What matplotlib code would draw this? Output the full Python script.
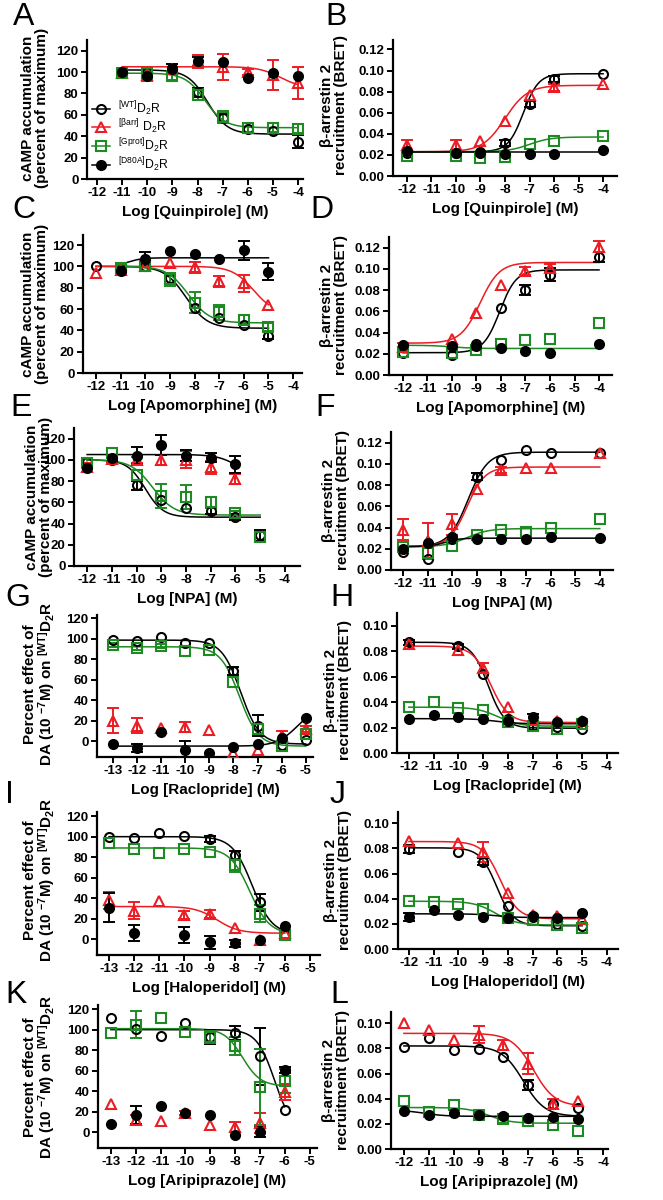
import numpy as np
import matplotlib
matplotlib.use('Agg')
import matplotlib.pyplot as plt
from matplotlib.lines import Line2D
from matplotlib.ticker import FormatStrFormatter

plt.rcParams['font.family'] = 'Liberation Sans'
plt.rcParams['font.weight'] = 'bold'
plt.rcParams['axes.labelweight'] = 'bold'
plt.rcParams['mathtext.default'] = 'regular'
plt.rcParams['axes.unicode_minus'] = False

nan = np.nan

# ---- data (log M, response) ----
# fit params: (left asymptote, right asymptote, logEC50, slope)

# A: quinpirole, cAMP
A_x = [-11, -10, -9, -8, -7, -6, -5, -4]
A_wt = [100, 100, 104, 81, 57, 47, 45, 35]
A_barr = [99, 97, 103, 110, 105, 100, 97, 90]
A_gprot = [99, 99, 96, 79, 58, 48, 48, 47]
A_d80a = [100, 96, 103, 110, 109, 94, 99, 96]
A_wt_err = [0, 0, 0, 4, 4, 0, 0, 6]
A_barr_err = [3, 5, 0, 6, 12, 3, 14, 15]
A_gprot_err = [2, 2, 3, 5, 6, 4, 4, 4]
A_d80a_err = [0, 0, 5, 4, 0, 0, 0, 0]
A_fit = {'wt': (102, 42, -7.6, 1.1), 'barr': (105, 85, -4.7, 1.0),
         'gprot': (99, 48, -7.7, 1.1)}

# B: quinpirole, BRET
B_x = [-12, -10, -9, -8, -7, -6, -4]
B_wt = [0.0215, 0.0215, 0.023, 0.031, 0.068, 0.092, 0.097]
B_barr = [0.029, 0.029, 0.033, 0.052, 0.077, 0.084, 0.087]
B_gprot = [0.019, 0.019, 0.0175, 0.018, 0.030, 0.0335, 0.038]
B_d80a = [0.024, 0.022, 0.0215, 0.021, 0.021, 0.0205, 0.0245]
B_wt_err = [0, 0, 0, 0.003, 0.003, 0.003, 0]
B_barr_err = [0.005, 0.005, 0, 0, 0, 0.003, 0]
B_gprot_err = [0, 0, 0, 0, 0, 0, 0]
B_d80a_err = [0, 0, 0, 0, 0, 0, 0]
B_fit = {'wt': (0.023, 0.097, -7.25, 1.4), 'barr': (0.023, 0.086, -8.0, 0.95),
         'gprot': (0.023, 0.037, -7.0, 1.0), 'd80a': (0.023, 0.023, -8.0, 1.0)}

# C: apomorphine, cAMP
C_x = [-12, -11, -10, -9, -8, -7, -6, -5]
C_wt = [100, 97, 100, 89, 61, 52, 45, 35]
C_barr = [94, 97, 100, 103, 99, 86, 84, 64]
C_gprot = [nan, 98, 100, 88, 66, 57, 50, 43]
C_d80a = [nan, 96, 107, 114, 112, 107, 115, 95]
C_wt_err = [0, 0, 0, 0, 0, 0, 0, 3]
C_barr_err = [0, 0, 0, 0, 5, 5, 8, 0]
C_gprot_err = [0, 3, 0, 6, 10, 7, 4, 4]
C_d80a_err = [0, 0, 6, 0, 0, 0, 9, 8]
C_fit = {'wt': (100, 42, -8.35, 1.0), 'barr': (100, 55, -5.6, 1.0),
         'gprot': (100, 47, -8.25, 1.0), 'd80a': (100, 108, -10.7, 1.5)}

# D: apomorphine, BRET
D_x = [-12, -10, -9, -8, -7, -6, -4]
D_wt = [0.0205, 0.019, 0.029, 0.063, 0.080, 0.0945, 0.111]
D_barr = [0.026, 0.034, 0.058, 0.085, 0.098, 0.101, 0.121]
D_gprot = [0.022, 0.021, 0.024, 0.029, 0.033, 0.034, 0.049]
D_d80a = [0.028, 0.027, 0.027, 0.025, 0.0225, 0.021, 0.029]
D_wt_err = [0, 0, 0, 0, 0.005, 0.006, 0.005]
D_barr_err = [0.004, 0, 0, 0, 0.004, 0.004, 0.005]
D_gprot_err = [0, 0, 0, 0, 0, 0, 0]
D_d80a_err = [0, 0, 0, 0, 0, 0, 0]
D_fit = {'wt': (0.021, 0.099, -8.05, 1.3), 'barr': (0.030, 0.106, -8.85, 1.1),
         'gprot': (0.028, 0.025, -10.0, 1.0)}

# E: NPA, cAMP
E_x = [-12, -11, -10, -9, -8, -7, -6, -5]
E_wt = [98, 100, 76, 62, 55, 52, 46, 29]
E_barr = [93, 101, 100, 100, 100, 93, 82, nan]
E_gprot = [97, 106, 86, 66, 65, 60, 50, 27]
E_d80a = [92, 102, 104, 114, 104, 102, 96, nan]
E_wt_err = [0, 0, 4, 0, 0, 3, 3, 5]
E_barr_err = [4, 3, 3, 5, 8, 6, 5, 0]
E_gprot_err = [0, 0, 0, 11, 11, 5, 2, 0]
E_d80a_err = [0, 0, 8, 9, 5, 4, 8, 0]
E_fit = {'wt': (100, 46, -9.65, 1.2), 'gprot': (100, 48, -9.35, 1.0),
         'd80a': (105, 80, -5.8, 1.0)}

# F: NPA, BRET
F_x = [-12, -11, -10, -9, -8, -7, -6, -4]
F_wt = [0.017, 0.010, 0.029, 0.088, 0.104, 0.1135, 0.110, 0.110]
F_barr = [0.038, 0.027, 0.043, 0.076, 0.094, 0.096, 0.096, 0.110]
F_gprot = [0.022, 0.016, 0.023, 0.033, 0.0375, 0.036, 0.040, 0.048]
F_d80a = [0.020, 0.025, 0.031, 0.029, 0.029, 0.029, 0.031, 0.030]
F_wt_err = [0, 0, 0, 0.003, 0, 0, 0, 0]
F_barr_err = [0.010, 0.017, 0.010, 0, 0.003, 0, 0, 0]
F_gprot_err = [0, 0, 0, 0, 0, 0, 0, 0]
F_d80a_err = [0, 0, 0, 0, 0, 0, 0, 0]
F_fit = {'wt': (0.022, 0.111, -9.35, 1.1), 'barr': (0.022, 0.097, -9.4, 1.2),
         'gprot': (0.022, 0.039, -9.4, 1.0), 'd80a': (0.022, 0.030, -10.3, 1.5)}

# G: raclopride, cAMP (percent effect of DA)
G_x = [-13, -12, -11, -10, -9, -8, -7, -6, -5]
G_wt = [99, 98, 102, 96, 96, 68, 15, -4, 1]
G_barr = [20, 15, 13, 14, 11, -12, -9, 5, 12]
G_gprot = [94, 91, 93, 88, 89, 58, 12, -5, 7]
G_d80a = [-3, -7, 9, -9, -12, -6, -3, 3, 22]
G_wt_err = [0, 0, 0, 0, 0, 4, 10, 0, 0]
G_barr_err = [12, 7, 0, 5, 0, 0, 0, 5, 3]
G_gprot_err = [2, 2, 2, 0, 0, 0, 0, 0, 0]
G_d80a_err = [0, 4, 0, 9, 0, 0, 0, 0, 0]
G_fit = {'wt': (98.5, -3, -7.7, 1.1), 'gprot': (92, -5, -7.75, 1.1),
         'd80a': (-5, 35, -5.33, 1.0)}

# H: raclopride, BRET
H_x = [-12, -11, -10, -9, -8, -7, -6, -5]
H_wt = [0.087, nan, 0.084, 0.062, 0.027, 0.021, 0.0205, 0.0185]
H_barr = [0.086, nan, 0.081, 0.067, 0.036, 0.026, 0.025, 0.025]
H_gprot = [0.036, 0.040, 0.0355, 0.0335, 0.024, 0.021, 0.019, 0.023]
H_d80a = [0.027, 0.0295, 0.028, 0.027, 0.025, 0.028, 0.024, 0.025]
H_wt_err = [0.002, 0, 0.002, 0, 0, 0.003, 0, 0]
H_barr_err = [0, 0, 0, 0.004, 0, 0, 0, 0]
H_gprot_err = [0, 0, 0, 0, 0, 0, 0, 0]
H_d80a_err = [0, 0, 0, 0, 0, 0.003, 0, 0]
H_fit = {'wt': (0.087, 0.0195, -8.8, 1.3), 'barr': (0.084, 0.024, -8.7, 1.2),
         'gprot': (0.036, 0.021, -8.4, 1.0), 'd80a': (0.027, 0.023, -8.5, 1.0)}

# I: haloperidol, cAMP
I_x = [-13, -12, -11, -10, -9, -8, -7, -6]
I_wt = [100, 99, 104, 101, 98, 82, 36, 4]
I_barr = [38, 28, 37, 24, 25, 11, -1, 6]
I_gprot = [94, 88, 84, 88, 85, 72, 25, 4]
I_d80a = [31, 6, nan, 4, -3, -4, -1, 13]
I_wt_err = [0, 0, 0, 0, 3, 4, 8, 0]
I_barr_err = [8, 8, 0, 4, 4, 0, 0, 0]
I_gprot_err = [0, 0, 0, 0, 0, 6, 8, 0]
I_d80a_err = [14, 8, 0, 8, 6, 3, 0, 0]
I_fit = {'wt': (100, 5, -7.3, 1.1), 'barr': (32, 6, -8.7, 1.0),
         'gprot': (89, 5, -7.4, 1.1)}

# J: haloperidol, BRET
J_x = [-12, -11, -10, -9, -8, -7, -6, -5]
J_wt = [0.0795, nan, 0.0775, 0.0695, 0.0345, 0.0255, 0.0195, 0.018]
J_barr = [0.086, nan, 0.084, 0.0775, 0.0445, 0.027, 0.026, 0.024]
J_gprot = [0.0385, 0.037, 0.036, 0.0315, 0.0245, 0.023, 0.019, 0.0165]
J_d80a = [0.0255, 0.031, 0.027, 0.0255, 0.0245, 0.0265, 0.0245, 0.029]
J_wt_err = [0.003, 0, 0, 0.003, 0, 0, 0, 0]
J_barr_err = [0, 0, 0, 0.008, 0, 0, 0, 0]
J_gprot_err = [0, 0, 0, 0, 0, 0, 0, 0]
J_d80a_err = [0.003, 0, 0, 0, 0, 0, 0, 0]
J_fit = {'wt': (0.0805, 0.0185, -8.45, 1.3), 'barr': (0.0855, 0.024, -8.3, 1.2),
         'gprot': (0.038, 0.019, -8.5, 1.0), 'd80a': (0.028, 0.025, -8.5, 1.0)}

# K: aripiprazole, cAMP
K_x = [-13, -12, -11, -10, -9, -8, -7, -6]
K_wt = [111, 101, 94, 106, 93, 97, 74, 22]
K_barr = [28, 12, 11, 19, 7, 5, 9, 39]
K_gprot = [97, 105, 111, 98, 93, 84, 44, 50]
K_d80a = [8, 17, 26, 19, 17, -3, 0, 61]
K_wt_err = [0, 0, 0, 0, 7, 7, 28, 0]
K_barr_err = [0, 5, 0, 2, 0, 5, 10, 8]
K_gprot_err = [0, 13, 0, 0, 6, 9, 37, 12]
K_d80a_err = [0, 9, 0, 0, 0, 0, 5, 3]
K_fit = {'wt': (100, 0, -6.4, 1.2), 'gprot': (101, 45, -7.7, 1.2)}

# L: aripiprazole, BRET
L_x = [-12, -11, -10, -9, -8, -7, -6, -5]
L_wt = [0.0815, 0.088, 0.079, 0.0795, 0.0735, 0.051, 0.036, 0.033]
L_barr = [0.100, 0.095, 0.0865, 0.091, 0.083, 0.068, 0.036, 0.038]
L_gprot = [0.038, 0.0295, 0.035, 0.027, 0.024, 0.022, 0.019, 0.0145]
L_d80a = [0.030, 0.027, 0.0285, 0.027, 0.026, 0.025, 0.0255, 0.0235]
L_wt_err = [0, 0, 0, 0, 0, 0.004, 0, 0]
L_barr_err = [0, 0, 0, 0.007, 0.004, 0.008, 0.004, 0]
L_gprot_err = [0, 0, 0, 0, 0.003, 0, 0, 0]
L_d80a_err = [0, 0, 0, 0, 0, 0, 0, 0]
L_fit = {'wt': (0.082, 0.026, -7.2, 1.0), 'barr': (0.092, 0.034, -6.8, 1.0),
         'gprot': (0.033, 0.0205, -8.6, 1.0), 'd80a': (0.031, 0.026, -11.2, 1.0)}

legend_labels = ['$^{[WT]}$D$_2$R', '$^{[βarr]}$ D$_2$R',
                 '$^{[Gprot]}$D$_2$R', '$^{[D80A]}$D$_2$R']
camp_label = 'cAMP accumulation\n(percent of maximum)'
bret_label = 'β-arrestin 2\nrecruitment (BRET)'
pct_label = 'Percent effect of\nDA (10 $^{-7}$M) on $^{[WT]}$D$_2$R'

RED = '#ec1c24'
GREEN = '#1d8a22'
keys = ['wt', 'barr', 'gprot', 'd80a']
styles = {
    'wt': dict(color='black', marker='o', mfc='none'),
    'barr': dict(color=RED, marker='^', mfc='none'),
    'gprot': dict(color=GREEN, marker='s', mfc='none'),
    'd80a': dict(color='black', marker='o', mfc='black'),
}

W, H = 663, 1200
fig = plt.figure(figsize=(W / 100, H / 100), dpi=100)


def hill(x, left, right, logec50, slope):
    return left + (right - left) / (1 + 10 ** ((logec50 - x) * slope))


def add_ax(left, right, top, bottom):
    return fig.add_axes([left / W, 1 - bottom / H, (right - left) / W, (bottom - top) / H])


def panel(box, x, ys, errs, fits, xlim, ylim, xticks, yticks, fmt, xlabel):
    ax = add_ax(*box)
    x = np.array(x, float)
    for k in keys:
        y = np.array(ys[k], float)
        if k in fits:
            ok = ~np.isnan(y)
            xs = np.linspace(x[ok].min(), x[ok].max(), 200)
            ax.plot(xs, hill(xs, *fits[k]), color=styles[k]['color'], lw=1.1, zorder=2)
    for k in keys:
        st = styles[k]
        y = np.array(ys[k], float)
        e = np.array(errs[k], float)
        m = e > 0
        if m.any():
            ax.errorbar(x[m], y[m], yerr=e[m], fmt='none', ecolor=st['color'],
                        elinewidth=1.4, capsize=4, capthick=1.4, zorder=3)
        ax.plot(x, y, linestyle='none', marker=st['marker'], color=st['color'],
                mfc=st['mfc'], mec=st['color'], ms=6.5, mew=1.5, zorder=4)
    ax.set_xlim(*xlim)
    ax.set_ylim(*ylim)
    ax.set_xticks(xticks)
    ax.set_yticks(yticks)
    ax.yaxis.set_major_formatter(FormatStrFormatter(fmt))
    for s in ['top', 'right']:
        ax.spines[s].set_visible(False)
    for s in ['left', 'bottom']:
        ax.spines[s].set_linewidth(1.6)
    ax.tick_params(direction='out', length=4, width=1.4, labelsize=9.5, pad=2)
    for lbl in ax.get_xticklabels() + ax.get_yticklabels():
        lbl.set_fontweight('bold')
    ax.set_xlabel(xlabel, fontsize=11, fontweight='bold', labelpad=4)
    return ax


camp_y = np.arange(0, 121, 20)
bret12 = np.arange(0, 0.121, 0.02)
bret10 = np.arange(0, 0.101, 0.02)
x12 = np.arange(-12, -3)
x13 = np.arange(-13, -4)


def pack(wt, barr, gprot, d80a):
    return {'wt': wt, 'barr': barr, 'gprot': gprot, 'd80a': d80a}


axA = panel((87, 303, 40, 179), A_x, pack(A_wt, A_barr, A_gprot, A_d80a),
            pack(A_wt_err, A_barr_err, A_gprot_err, A_d80a_err), A_fit,
            (-12.4, -3.8), (0, 130), x12, camp_y, '%d', 'Log [Quinpirole] (M)')
panel((393, 617, 40, 176), B_x, pack(B_wt, B_barr, B_gprot, B_d80a),
      pack(B_wt_err, B_barr_err, B_gprot_err, B_d80a_err), B_fit,
      (-12.57, -3.43), (0, 0.129), x12, bret12, '%.2f', 'Log [Quinpirole] (M)')
panel((83, 302, 235, 373), C_x, pack(C_wt, C_barr, C_gprot, C_d80a),
      pack(C_wt_err, C_barr_err, C_gprot_err, C_d80a_err), C_fit,
      (-12.53, -3.64), (0, 129.4), x12, camp_y, '%d', 'Log [Apomorphine] (M)')
panel((389, 612, 237, 375), D_x, pack(D_wt, D_barr, D_gprot, D_d80a),
      pack(D_wt_err, D_barr_err, D_gprot_err, D_d80a_err), D_fit,
      (-12.57, -3.47), (0, 0.13), x12, bret12, '%.2f', 'Log [Apomorphine] (M)')
panel((74, 300, 428, 566), E_x, pack(E_wt, E_barr, E_gprot, E_d80a),
      pack(E_wt_err, E_barr_err, E_gprot_err, E_d80a_err), E_fit,
      (-12.53, -3.39), (0, 130), x12, camp_y, '%d', 'Log [NPA] (M)')
panel((391, 613, 432, 570), F_x, pack(F_wt, F_barr, F_gprot, F_d80a),
      pack(F_wt_err, F_barr_err, F_gprot_err, F_d80a_err), F_fit,
      (-12.49, -3.46), (0, 0.13), x12, bret12, '%.2f', 'Log [NPA] (M)')
panel((97, 313, 615, 757), G_x, pack(G_wt, G_barr, G_gprot, G_d80a),
      pack(G_wt_err, G_barr_err, G_gprot_err, G_d80a_err), G_fit,
      (-13.66, -4.7), (-15.6, 123), x13, camp_y, '%d', 'Log [Raclopride] (M)')
panel((397, 618, 613, 753), H_x, pack(H_wt, H_barr, H_gprot, H_d80a),
      pack(H_wt_err, H_barr_err, H_gprot_err, H_d80a_err), H_fit,
      (-12.48, -3.55), (0, 0.11), x12, bret10, '%.2f', 'Log [Raclopride] (M)')
panel((97, 320, 812, 955), I_x, pack(I_wt, I_barr, I_gprot, I_d80a),
      pack(I_wt_err, I_barr_err, I_gprot_err, I_d80a_err), I_fit,
      (-13.48, -4.6), (-15.2, 124), x13, camp_y, '%d', 'Log [Haloperidol] (M)')
panel((398, 618, 812, 949), J_x, pack(J_wt, J_barr, J_gprot, J_d80a),
      pack(J_wt_err, J_barr_err, J_gprot_err, J_d80a_err), J_fit,
      (-12.44, -3.55), (0, 0.109), x12, bret10, '%.2f', 'Log [Haloperidol] (M)')
panel((98, 317, 1005, 1148), K_x, pack(K_wt, K_barr, K_gprot, K_d80a),
      pack(K_wt_err, K_barr_err, K_gprot_err, K_d80a_err), K_fit,
      (-13.52, -4.7), (-15.3, 124), x13, camp_y, '%d', 'Log [Aripiprazole] (M)')
panel((391, 608, 1012, 1149), L_x, pack(L_wt, L_barr, L_gprot, L_d80a),
      pack(L_wt_err, L_barr_err, L_gprot_err, L_d80a_err), L_fit,
      (-12.52, -3.8), (0, 0.109), x12, bret10, '%.2f', 'Log [Aripiprazole] (M)')

# legend in panel A
handles = [Line2D([0], [0], color=styles[k]['color'], marker=styles[k]['marker'],
                  mfc=styles[k]['mfc'], mec=styles[k]['color'], ms=6.5, mew=1.5, lw=1.1)
           for k in keys]
axA.legend(handles, legend_labels, loc='upper left', bbox_to_anchor=(0.0, 0.61),
           frameon=False, handlelength=1.5, handletextpad=0.6, labelspacing=0.0,
           borderaxespad=0, prop={'size': 8.8, 'weight': 'normal'})

# y labels (centre positions in pixels)
ylabels = [(camp_label, 35, 108), (bret_label, 334, 105),
           (camp_label, 35, 304), (bret_label, 334, 305),
           (camp_label, 39, 497), (bret_label, 336, 500),
           (pct_label, 40, 684), (bret_label, 338, 690),
           (pct_label, 40, 880), (bret_label, 338, 880),
           (pct_label, 40, 1077), (bret_label, 336, 1080)]
for txt, px, py in ylabels:
    fig.text(px / W, 1 - py / H, txt, rotation=90, ha='center', va='center',
             fontsize=11, fontweight='bold', linespacing=1.0, multialignment='center')

# panel letters (left, top in pixels)
letters = [('A', 13, 2), ('B', 325, 2), ('C', 12, 195), ('D', 310, 195),
           ('E', 10, 393), ('F', 315, 393), ('G', 5, 583), ('H', 330, 583),
           ('I', 5, 780), ('J', 330, 780), ('K', 5, 980), ('L', 330, 980)]
for t, px, py in letters:
    fig.text(px / W, 1 - py / H, t, ha='left', va='top', fontsize=23,
             fontweight='normal')

fig.savefig('out.png', dpi=100)
